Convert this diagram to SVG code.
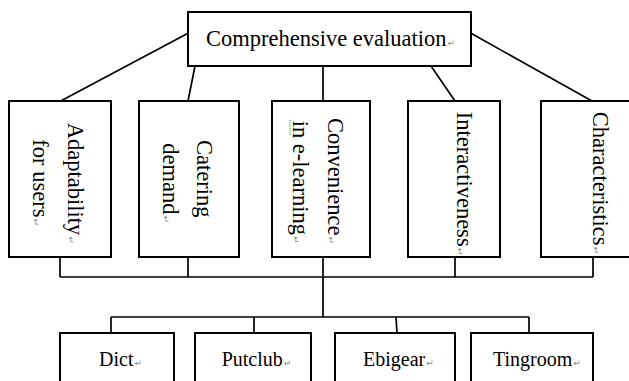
<svg xmlns="http://www.w3.org/2000/svg" width="629" height="381" viewBox="0 0 629 381">
<style>
.box{fill:#fff;stroke:#000;stroke-width:2}
.ln{fill:none;stroke:#000;stroke-width:1.7}
.t{font-family:"Liberation Serif","Times New Roman",serif;font-size:22.5px;fill:#000}
.b{font-family:"Liberation Serif","Times New Roman",serif;font-size:20px;fill:#000}
.m{font-family:"DejaVu Sans",sans-serif;font-size:9px;fill:#8a8a8a}
</style>
<rect width="629" height="381" fill="#fff"/>
<g id="connectors">
<path class="ln" d="M188,33.3 L60.7,101 M195,66 L188,101 M323,66 L323,101 M431,66 L455,101 M471,33.3 L592,101"/>
<path class="ln" d="M60,257 V277 M188,257 V277 M455,257 V277 M593,257 V277 M60,277 H593 M323,257 V317 M111,317 H529 M111,317 V333 M254,317 V333 M396,317 L397,333 M529,317 V333"/>
</g>
<g id="top">
<rect class="box" x="188" y="12" width="283" height="54"/>
<text class="t" x="206" y="45.5">Comprehensive evaluation<tspan class="m" dx="1">↵</tspan></text>
</g>
<g id="adaptability">
<rect class="box" x="9" y="101" width="102" height="156"/>
<text class="t" transform="translate(68,122.7) rotate(90)">Adaptability<tspan class="m" dx="1">↵</tspan></text>
<text class="t" transform="translate(32.7,139.3) rotate(90)">for users<tspan class="m" dx="1">↵</tspan></text>
</g>
<g id="catering">
<rect class="box" x="139" y="101" width="100" height="156"/>
<text class="t" transform="translate(196.7,140) rotate(90)">Catering</text>
<text class="t" transform="translate(162.7,143.3) rotate(90)">demand<tspan class="m" dx="1">↵</tspan></text>
</g>
<g id="convenience">
<rect class="box" x="272" y="101" width="98" height="156"/>
<text class="t" transform="translate(327.7,118) rotate(90)">Convenience<tspan class="m" dx="1">↵</tspan></text>
<text class="t" transform="translate(292.7,120.7) rotate(90)">in e-learning<tspan class="m" dx="1">↵</tspan></text>
<line x1="290" y1="120" x2="290" y2="136" stroke="#3a9a3a" stroke-width="1" stroke-dasharray="1,1"/>
</g>
<g id="interactiveness">
<rect class="box" x="408" y="101" width="92" height="156"/>
<text class="t" transform="translate(457,111.7) rotate(90)">Interactiveness<tspan class="m" dx="1">↵</tspan></text>
</g>
<g id="characteristics">
<rect class="box" x="541" y="101" width="100" height="156"/>
<text class="t" transform="translate(593.3,111.7) rotate(90)">Characteristics<tspan class="m" dx="1">↵</tspan></text>
</g>
<g id="dict">
<rect class="box" x="60" y="333" width="114" height="60"/>
<text class="b" x="99" y="366">Dict<tspan class="m" dx="1">↵</tspan></text>
</g>
<g id="putclub">
<rect class="box" x="195" y="333" width="116" height="60"/>
<text class="b" x="221.7" y="366">Putclub<tspan class="m" dx="1">↵</tspan></text>
</g>
<g id="ebigear">
<rect class="box" x="335" y="333" width="120" height="60"/>
<text class="b" x="363" y="366">Ebigear<tspan class="m" dx="1">↵</tspan></text>
</g>
<g id="tingroom">
<rect class="box" x="471" y="333" width="122" height="60"/>
<text class="b" x="493" y="366">Tingroom<tspan class="m" dx="1">↵</tspan></text>
</g>
</svg>
